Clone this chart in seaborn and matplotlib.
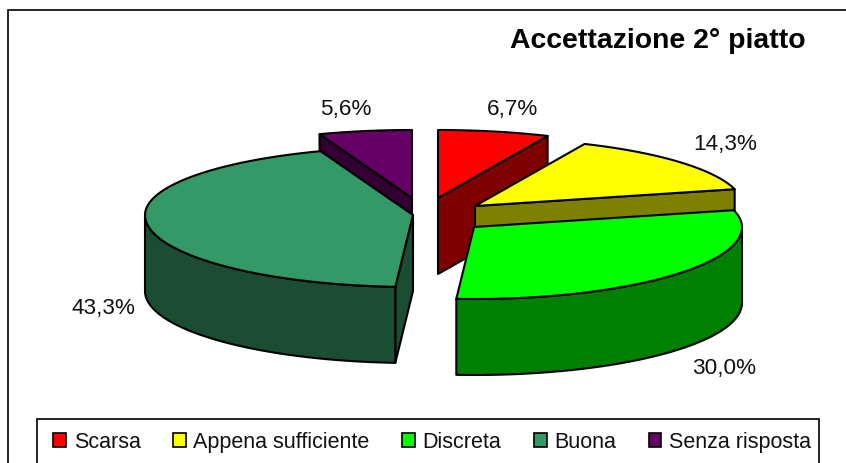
import numpy as np
import seaborn as sns
import matplotlib
matplotlib.use('Agg')
import matplotlib.pyplot as plt
from matplotlib.patches import Patch, Rectangle

# values
categories = ['Scarsa', 'Appena sufficiente', 'Discreta', 'Buona', 'Senza risposta']
values = [6.7, 14.3, 30.0, 43.3, 5.6]
value_labels = ['6,7%', '14,3%', '30,0%', '43,3%', '5,6%']
colors = ['#ff0000', '#ffff00', '#00ff00', '#339966', '#660066']

sns.set_theme(style='white')
plt.rcParams['font.family'] = ['Liberation Sans', 'DejaVu Sans']

# pie geometry, in pixels of the picture
cx, cy = 442, 215
rx = 268
ry_back, ry_front = 68, 72  # the back of the ellipse is a bit flatter
depth = 76
explode = [(-4, -16), (33, -8), (32, 13), (-29, 1), (-30, -16)]
label_pos = [(513, 110), (725, 145), (724, 369), (103, 309), (346, 110)]
draw_order = [4, 0, 1, 3, 2]

palette = sns.color_palette(colors)
fractions = np.array(values) / sum(values)
ends = np.cumsum(fractions) * 2 * np.pi
starts = ends - fractions * 2 * np.pi


def rim(x0, y0, a):
    c = np.cos(a)
    return x0 + rx * np.sin(a), y0 - np.where(c > 0, ry_back, ry_front) * c


fig = plt.figure(figsize=(8.46, 4.64), dpi=100)
ax = fig.add_axes([0, 0, 1, 1])
ax.set_xlim(0, 846)
ax.set_ylim(464, 0)
ax.axis('off')

# chart frame
ax.add_patch(Rectangle((7.5, 10.5), 860, 480, fc='white', ec='black', lw=1.2, zorder=0))

for i in draw_order:
    a0, a1 = starts[i], ends[i]
    x0, y0 = cx + explode[i][0], cy + explode[i][1]
    top = palette[i]
    side = tuple(c * 0.5 for c in top)
    style = dict(ec='black', lw=1.5, joinstyle='round')

    # radial walls that face the viewer
    if np.sin(a0) < -1e-6:
        px, py = rim(x0, y0, a0)
        ax.fill([x0, px, px, x0], [y0, py, py + depth, y0 + depth], fc=side, **style)
    if np.sin(a1) > 1e-6:
        px, py = rim(x0, y0, a1)
        ax.fill([x0, px, px, x0], [y0, py, py + depth, y0 + depth], fc=side, **style)

    # outer wall, front half of the ellipse only
    w0, w1 = max(a0, np.pi / 2), min(a1, 3 * np.pi / 2)
    if w1 > w0:
        xs, ys = rim(x0, y0, np.linspace(w0, w1, 80))
        ax.fill(np.r_[xs, xs[::-1]], np.r_[ys, ys[::-1] + depth], fc=side, **style)

    # top face
    xs, ys = rim(x0, y0, np.linspace(a0, a1, 80))
    ax.fill(np.r_[x0, xs], np.r_[y0, ys], fc=top, **style)

for (x, y), txt in zip(label_pos, value_labels):
    ax.text(x, y, txt, fontsize=16.2, color='#111111', ha='center', va='center')

ax.text(806, 40.5, 'Accettazione 2° piatto', fontsize=20.4, fontweight='bold',
        color='black', ha='right', va='center')

# legend box runs off the bottom of the picture
ax.add_patch(Rectangle((36.5, 420), 782, 60, fc='white', ec='black', lw=1.2, zorder=2))
handles = [Patch(fc=c, ec='black', lw=1.2) for c in palette]
leg = ax.legend(handles, categories, ncol=5, loc='center left',
                bbox_to_anchor=(53, 443), bbox_transform=ax.transData,
                fontsize=15.5, frameon=False, borderpad=0, handlelength=0.6,
                handleheight=0.6, handletextpad=0.36, columnspacing=1.5,
                borderaxespad=0, labelcolor='#111111')
leg.set_zorder(3)

fig.savefig('out.png', dpi=100)
